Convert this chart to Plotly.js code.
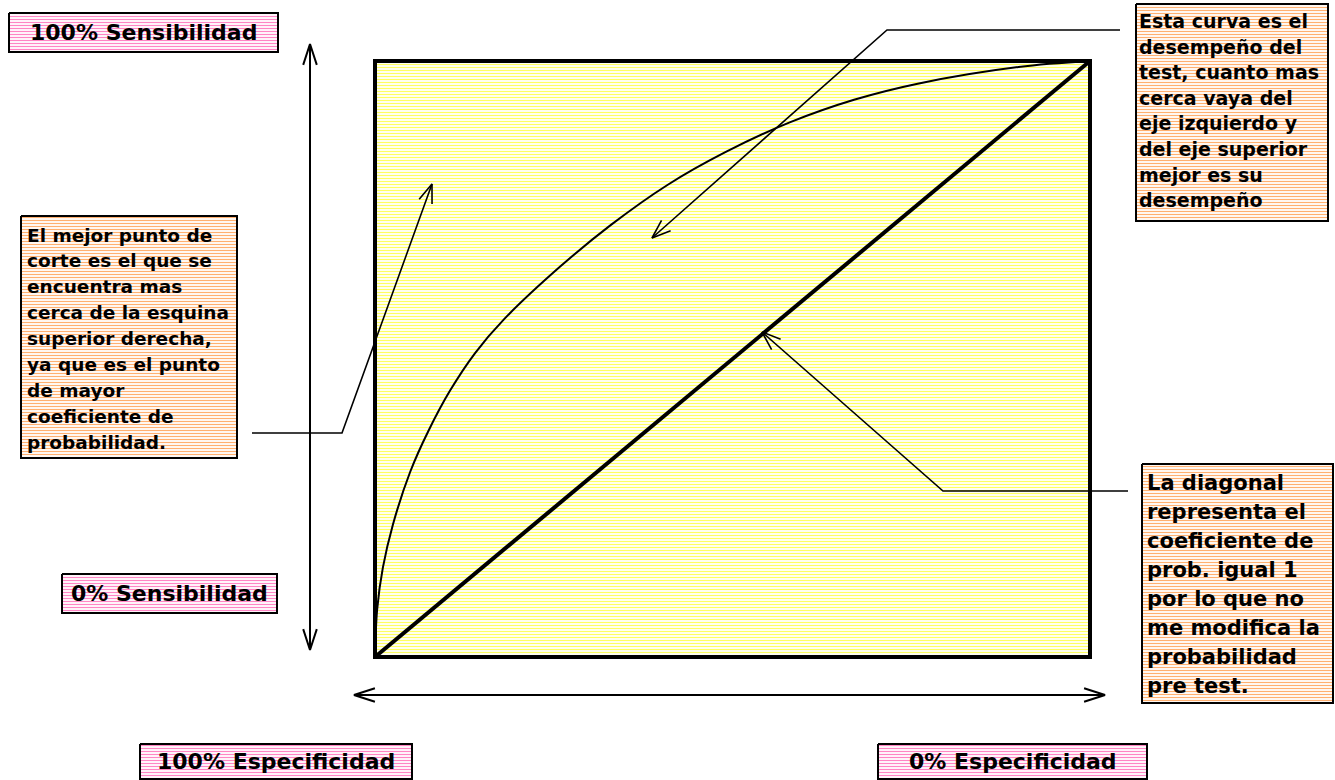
<!DOCTYPE html>
<html>
<head>
<meta charset="utf-8">
<script src="https://cdn.plot.ly/plotly-3.0.1.min.js"></script>
<style>
  html, body { margin: 0; padding: 0; background: #fff; }
  #roc { width: 1335px; height: 780px; }
</style>
</head>
<body>
<div id="roc"></div>
<script>
// curva ROC: 1 - especificidad (x) contra sensibilidad (y)
var falsosPositivos = [0, 0.003, 0.011, 0.025, 0.049, 0.075, 0.105, 0.14, 0.18, 0.259, 0.33, 0.409, 0.49, 0.58, 0.67, 0.759, 0.9, 1];
var sensibilidad    = [0, 0.08, 0.15, 0.222, 0.31, 0.38, 0.447, 0.51, 0.566, 0.655, 0.725, 0.792, 0.847, 0.897, 0.935, 0.962, 0.99, 1];
var diagonalX = [0, 1];
var diagonalY = [0, 1];

var etiquetas = ['100% Sensibilidad', '0% Sensibilidad', '100% Especificidad', '0% Especificidad'];

var notaMejorPunto = ['El mejor punto de', 'corte es el que se', 'encuentra mas', 'cerca de la esquina',
  'superior derecha,', 'ya que es el punto', 'de mayor', 'coeficiente de', 'probabilidad.'];
var notaCurva = ['Esta curva es el', 'desempeño del', 'test, cuanto mas', 'cerca vaya del',
  'eje izquierdo y', 'del eje superior', 'mejor es su', 'desempeño'];
var notaDiagonal = ['La diagonal', 'representa el', 'coeficiente de', 'prob. igual 1',
  'por lo que no', 'me modifica la', 'probabilidad', 'pre test.'];

// geometria en pixeles del cuadro
var W = 1335, H = 780;
var X0 = 375, X1 = 1090, Y0 = 657, Y1 = 61;
function fx(px) { return (px - X0) / (X1 - X0); }
function fy(py) { return (Y0 - py) / (Y0 - Y1); }

var FONT = 'DejaVu Sans, Verdana, sans-serif';
var ROSA = '#ff85c4', NARANJA = '#ffb070', AMARILLO = '#ffff60';

function caja(b, color) {
  return {
    x: [fx(b[0]), fx(b[2]), fx(b[2]), fx(b[0]), fx(b[0])],
    y: [fy(b[1]), fy(b[1]), fy(b[3]), fy(b[3]), fy(b[1])],
    mode: 'lines', fill: 'toself', fillcolor: '#ffffff',
    fillpattern: { shape: '-', fgcolor: color, bgcolor: '#ffffff', size: 3, solidity: 0.4 },
    line: { color: '#000', width: 2 },
    hoverinfo: 'skip', showlegend: false
  };
}

function punta(tip, from, L, ang) {
  var dx = from[0] - tip[0], dy = from[1] - tip[1];
  var n = Math.sqrt(dx * dx + dy * dy);
  dx /= n; dy /= n;
  var a = ang * Math.PI / 180, out = [];
  [a, -a].forEach(function (t) {
    var rx = dx * Math.cos(t) - dy * Math.sin(t);
    var ry = dx * Math.sin(t) + dy * Math.cos(t);
    out.push([tip[0] + L * rx, tip[1] + L * ry]);
  });
  return out;
}

function flecha(pts, ambas, L, ang, w) {
  var xs = [], ys = [];
  pts.forEach(function (p) { xs.push(fx(p[0])); ys.push(fy(p[1])); });
  var puntas = [[pts[pts.length - 1], pts[pts.length - 2]]];
  if (ambas) puntas.push([pts[0], pts[1]]);
  puntas.forEach(function (pp) {
    var b = punta(pp[0], pp[1], L, ang);
    xs.push(null, fx(b[0][0]), fx(pp[0][0]), fx(b[1][0]));
    ys.push(null, fy(b[0][1]), fy(pp[0][1]), fy(b[1][1]));
  });
  return { x: xs, y: ys, mode: 'lines', line: { color: '#000', width: w },
    hoverinfo: 'skip', showlegend: false };
}

function lineas(textos, left, yc, paso, size) {
  return textos.map(function (t, i) {
    return { text: t, x: fx(left), y: fy(yc + i * paso), xref: 'x', yref: 'y',
      xanchor: 'left', yanchor: 'middle', showarrow: false,
      font: { family: FONT, size: size, color: '#000', weight: 700 } };
  });
}

var cajasRosa = [[9, 13, 278, 52], [62, 574, 277, 613], [140, 744, 412, 779], [878, 744, 1147, 779]];

var data = [
  {
    x: [0, 1, 1, 0, 0], y: [0, 0, 1, 1, 0],
    mode: 'lines', fill: 'toself', fillcolor: '#ffffff',
    fillpattern: { shape: '-', fgcolor: AMARILLO, bgcolor: '#ffffff', size: 3, solidity: 0.4 },
    line: { width: 0 }, hoverinfo: 'skip', showlegend: false
  },
  {
    x: falsosPositivos, y: sensibilidad, mode: 'lines',
    line: { color: '#000', width: 2, shape: 'spline', smoothing: 1, simplify: false },
    hoverinfo: 'skip', showlegend: false
  },
  {
    x: diagonalX, y: diagonalY, mode: 'lines',
    line: { color: '#000', width: 4 }, hoverinfo: 'skip', showlegend: false
  },
  caja([21, 216, 237, 458], NARANJA),
  caja([1136, 4, 1328, 221], NARANJA),
  caja([1142, 464, 1333, 703], NARANJA),
  flecha([[310, 44], [310, 650]], true, 22, 18, 2),
  flecha([[354, 695], [1105, 695]], true, 22, 18, 2),
  flecha([[252, 433], [342, 433], [432, 184]], false, 20, 20, 1.6),
  flecha([[1120, 30], [887, 30], [652, 238]], false, 20, 20, 1.6),
  flecha([[1128, 491], [943, 491], [762, 332]], false, 20, 20, 1.6)
];
cajasRosa.forEach(function (b) { data.push(caja(b, ROSA)); });

var annotations = []
  .concat(lineas(notaMejorPunto, 25, 235, 25.9, 18.5))
  .concat(lineas(notaCurva, 1137, 21, 25.6, 19))
  .concat(lineas(notaDiagonal, 1145, 483, 29, 21));

cajasRosa.forEach(function (b, i) {
  annotations.push({ text: etiquetas[i], x: fx((b[0] + b[2]) / 2), y: fy((b[1] + b[3]) / 2),
    xref: 'x', yref: 'y', xanchor: 'center', yanchor: 'middle', showarrow: false,
    font: { family: FONT, size: 22, color: '#000', weight: 700 } });
});

var layout = {
  width: W, height: H, autosize: false,
  margin: { l: 0, r: 0, t: 0, b: 0 },
  paper_bgcolor: '#fff', plot_bgcolor: '#fff',
  xaxis: { range: [fx(0), fx(W)], visible: false, fixedrange: true },
  yaxis: { range: [fy(H), fy(0)], visible: false, fixedrange: true },
  shapes: [
    { type: 'rect', xref: 'x', yref: 'y', x0: 0, y0: 0, x1: 1, y1: 1,
      line: { color: '#000', width: 4 } }
  ],
  annotations: annotations,
  showlegend: false
};

Plotly.newPlot('roc', data, layout, { displayModeBar: false, staticPlot: true });
</script>
</body>
</html>
